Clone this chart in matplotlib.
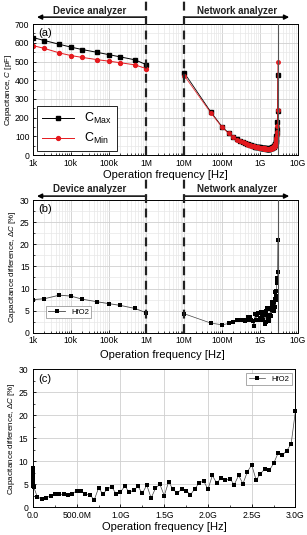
import numpy as np
import matplotlib
matplotlib.use("Agg")
import matplotlib.pyplot as plt
from matplotlib.ticker import FixedLocator, FuncFormatter, LogLocator, MultipleLocator

plt.rcParams['font.family'] = ['Liberation Sans', 'DejaVu Sans']
plt.rcParams['mathtext.fontset'] = 'custom'
plt.rcParams['mathtext.it'] = 'Liberation Sans:italic'
plt.rcParams['mathtext.rm'] = 'Liberation Sans'

# device analyzer sweep (Hz)
dev_freq = [1e3, 2e3, 5e3, 1e4, 2e4, 5e4, 1e5, 2e5, 5e5, 1e6]
dev_cmax = [628, 612, 592, 577, 564, 549, 537, 525, 509, 483]
dev_cmin = [585, 570, 546, 532, 522, 510, 502, 494, 482, 462]
dev_dc = [7.5, 7.7, 8.5, 8.3, 7.6, 7.0, 6.6, 6.2, 5.5, 4.5]

# network analyzer sweep: 10 MHz, then 50 MHz steps up to 3 GHz
net_freq = np.concatenate([[10e6], np.arange(50, 3001, 50) * 1e6])
net_cmax = [440, 232, 152, 118, 97, 85, 76, 70, 65, 61,
            57, 54, 52, 50, 48, 46, 45, 44, 43, 42,
            41, 40, 39, 38.5, 38, 37.5, 37, 36.5, 36, 36,
            35.5, 35.5, 35, 35, 35, 35, 35.5, 36, 36.5, 37,
            38, 39, 40, 41, 42.5, 44, 46, 48, 50, 53,
            57, 62, 68, 76, 88, 100, 120, 140, 175, 235, 430]
net_cmin = [425, 227, 149, 116, 95, 83, 74, 68, 63, 59,
            55, 52, 50.5, 48.7, 47.2, 44.1, 43.8, 42.3, 41.2, 40.8,
            39.7, 38.2, 37.8, 37.1, 36.4, 36.4, 35.3, 35.8, 34.6, 34.3,
            34.6, 33.6, 33.7, 34.0, 33.7, 33.8, 34.6, 34.6, 34.7, 35.0,
            36.6, 36.5, 38.0, 38.5, 40.2, 41.4, 43.9, 44.9, 47.6, 49.2,
            52.2, 58.5, 63.4, 70.2, 81.5, 91.3, 107, 126, 156, 240, 500]
net_dc = [4.3, 2.2, 1.8, 2.1, 2.4, 2.8, 2.8, 2.8, 2.7, 2.9,
          3.6, 3.5, 2.8, 2.7, 1.6, 4.2, 2.8, 4.0, 4.4, 2.9,
          3.3, 4.6, 3.2, 3.7, 4.5, 3.0, 4.8, 2.0, 4.1, 5.0,
          2.5, 5.5, 3.9, 3.0, 4.0, 3.6, 2.7, 4.0, 5.3, 5.7,
          3.9, 6.9, 5.2, 6.4, 5.8, 6.2, 4.9, 6.9, 5.1, 7.7,
          9.2, 5.9, 7.3, 8.3, 8.0, 9.5, 11.7, 11.3, 12.3, 13.7, 21.0]

log_ticks = [1e3, 1e4, 1e5, 1e6, 1e7, 1e8, 1e9, 1e10]
log_labels = ['1k', '10k', '100k', '1M', '10M', '100M', '1G', '10G']
lin_ticks = [0, 0.5e9, 1.0e9, 1.5e9, 2.0e9, 2.5e9, 3.0e9]
lin_labels = ['0.0', '500.0M', '1.0G', '1.5G', '2.0G', '2.5G', '3.0G']

red = '#e5191e'
tfs = 6.2
lfs = 8

fig = plt.figure(figsize=(3.07, 5.35), dpi=100)
axa = fig.add_axes([0.1075, 0.710, 0.862, 0.245])
axb = fig.add_axes([0.1075, 0.378, 0.862, 0.248])
axc = fig.add_axes([0.1075, 0.052, 0.855, 0.258])


def style(ax):
    ax.grid(True, which='major', color='#cfcfcf', lw=0.6)
    ax.grid(True, which='minor', color='#e8e8e8', lw=0.5)
    ax.set_axisbelow(True)
    ax.tick_params(labelsize=tfs, direction='in', length=2.5, width=0.6, pad=2.5)
    ax.tick_params(which='minor', direction='in', length=1.5, width=0.5)
    for s in ax.spines.values():
        s.set_linewidth(0.7)


def log_axis(ax):
    ax.set_xscale('log')
    ax.set_xlim(1e3, 1e10)
    ax.xaxis.set_major_locator(FixedLocator(log_ticks))
    ax.set_xticklabels(log_labels)
    ax.xaxis.set_minor_locator(LogLocator(base=10, subs=np.arange(2, 10)))
    ax.xaxis.set_minor_formatter(FuncFormatter(lambda v, p: ''))


def analyzer_marks(ax, top, arrow_y, text_y):
    for f in (1e6, 1e7):
        ax.axvline(f, ymin=0, ymax=top, color='#222222', lw=1.6, ls=(0, (4, 2.5)),
                   clip_on=False, zorder=5)
    ax.axvline(3.05e9, color='#555555', lw=0.8, zorder=3)
    ax.annotate('', xy=(0.015, arrow_y), xytext=(3 / 7, arrow_y),
                xycoords='axes fraction',
                arrowprops=dict(arrowstyle='-|>', color='k', lw=1.1,
                                mutation_scale=7, shrinkA=0, shrinkB=0))
    ax.annotate('', xy=(0.968, arrow_y), xytext=(4 / 7, arrow_y),
                xycoords='axes fraction',
                arrowprops=dict(arrowstyle='-|>', color='k', lw=1.1,
                                mutation_scale=7, shrinkA=0, shrinkB=0))
    ax.text(0.215, text_y, 'Device analyzer', transform=ax.transAxes,
            ha='center', va='center', fontsize=7, fontweight='bold', color='#222222')
    ax.text(0.77, text_y, 'Network analyzer', transform=ax.transAxes,
            ha='center', va='center', fontsize=7, fontweight='bold', color='#222222')


# (a) capacitance
style(axa)
log_axis(axa)
axa.set_ylim(0, 700)
axa.yaxis.set_major_locator(MultipleLocator(100))
axa.yaxis.set_minor_locator(MultipleLocator(50))
axa.plot(dev_freq, dev_cmax, '-s', color='k', ms=2.8, lw=0.7, label=r'C$_{\mathregular{Max}}$')
axa.plot(dev_freq, dev_cmin, '-o', color=red, ms=2.8, lw=0.7, label=r'C$_{\mathregular{Min}}$')
axa.plot(net_freq, net_cmax, '-s', color='k', ms=2.2, lw=0.6)
axa.plot(net_freq, net_cmin, '-o', color=red, ms=2.6, lw=0.6, alpha=0.9)
axa.set_ylabel('Capacitance, $C$ [pF]', fontsize=5.8, labelpad=1)
axa.set_xlabel('Operation frequency [Hz]', fontsize=lfs, labelpad=2)
axa.text(0.02, 0.93, '(a)', transform=axa.transAxes, fontsize=8, va='center')
leg = axa.legend(loc='lower left', fontsize=9, handlelength=2.6, borderpad=0.4,
                 labelspacing=0.4, fancybox=False, edgecolor='k', framealpha=1,
                 borderaxespad=0.3)
leg.get_frame().set_linewidth(0.6)
analyzer_marks(axa, 1.18, 1.053, 1.10)

# (b) capacitance difference, log frequency
style(axb)
log_axis(axb)
axb.set_ylim(0, 30)
axb.yaxis.set_major_locator(MultipleLocator(5))
axb.yaxis.set_minor_locator(MultipleLocator(2.5))
axb.plot(dev_freq, dev_dc, '-s', color='#444444', mfc='k', mec='k', ms=3.2, lw=0.6,
         markeredgewidth=0, label='HfO2')
axb.plot(net_freq, net_dc, '-s', color='#444444', mfc='k', mec='k', ms=3.2, lw=0.5,
         markeredgewidth=0)
axb.set_ylabel(r'Capacitance difference, $\Delta C$ [%]', fontsize=5.8, labelpad=1)
axb.text(0.02, 0.93, '(b)', transform=axb.transAxes, fontsize=8, va='center')
legb = axb.legend(loc='lower left', fontsize=5.5, handlelength=2.2, borderpad=0.3,
                  fancybox=False, edgecolor='#888888', framealpha=1,
                  bbox_to_anchor=(0.035, 0.08))
legb.get_frame().set_linewidth(0.5)
analyzer_marks(axb, 1.19, 1.03, 1.085)

# (c) capacitance difference, linear frequency
all_freq = np.concatenate([dev_freq, net_freq])
all_dc = dev_dc + net_dc
style(axc)
axc.tick_params(axis='y', pad=3.5)
axc.tick_params(axis='x', pad=3)
axc.set_xlim(0, 3.0e9)
axc.set_ylim(0, 30)
axc.xaxis.set_major_locator(FixedLocator(lin_ticks))
axc.set_xticklabels(lin_labels)
axc.xaxis.set_minor_locator(MultipleLocator(0.25e9))
axc.yaxis.set_major_locator(MultipleLocator(5))
axc.yaxis.set_minor_locator(MultipleLocator(2.5))
axc.grid(False, which='minor')
axc.plot(all_freq, all_dc, '-s', color='#444444', mfc='k', mec='k', ms=3.4,
         lw=0.5, markeredgewidth=0, label='HfO2', clip_on=False)
axc.set_ylabel(r'Capacitance difference, $\Delta C$ [%]', fontsize=5.8, labelpad=1)
axc.set_xlabel('Operation frequency [Hz]', fontsize=lfs, labelpad=1)
axc.text(0.02, 0.93, '(c)', transform=axc.transAxes, fontsize=8, va='center')
legc = axc.legend(loc='upper right', fontsize=5.5, handlelength=2.2, borderpad=0.3,
                  fancybox=False, edgecolor='#888888', framealpha=1)
legc.get_frame().set_linewidth(0.5)

fig.text(0.53, 0.337, 'Operation frequency [Hz]', ha='center', va='center', fontsize=lfs)

fig.savefig('out.png', dpi=100)
